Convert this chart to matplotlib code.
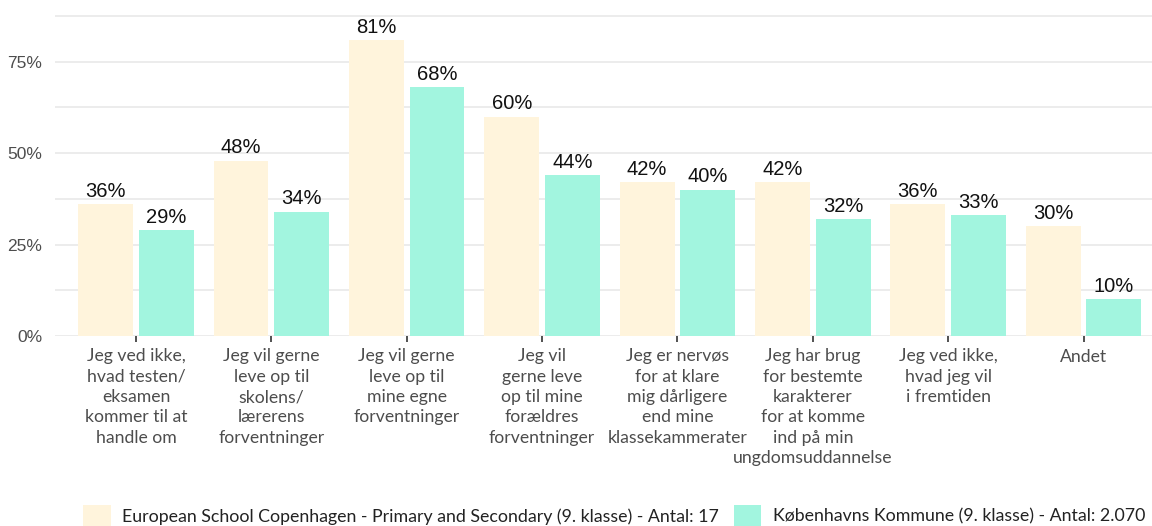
import numpy as np
import matplotlib
matplotlib.use("Agg")
import matplotlib.pyplot as plt
from matplotlib.ticker import MultipleLocator, FuncFormatter

categories = [
    "Jeg ved ikke,\nhvad testen/\neksamen\nkommer til at\nhandle om",
    "Jeg vil gerne\nleve op til\nskolens/\nlærerens\nforventninger",
    "Jeg vil gerne\nleve op til\nmine egne\nforventninger",
    "Jeg vil\ngerne leve\nop til mine\nforældres\nforventninger",
    "Jeg er nervøs\nfor at klare\nmig dårligere\nend mine\nklassekammerater",
    "Jeg har brug\nfor bestemte\nkarakterer\nfor at komme\nind på min\nungdomsuddannelse",
    "Jeg ved ikke,\nhvad jeg vil\ni fremtiden",
    "Andet",
]
school_vals = [36, 48, 81, 60, 42, 42, 36, 30]
kommune_vals = [29, 34, 68, 44, 40, 32, 33, 10]
school_label = "European School Copenhagen - Primary and Secondary (9. klasse) - Antal: 17"
kommune_label = "Københavns Kommune (9. klasse) - Antal: 2.070"

BEIGE = "#FFF4DC"
TEAL = "#A2F5DF"

fig = plt.figure(figsize=(11.52, 5.26), dpi=100)
ax = fig.add_axes([55/1152, 1 - 336/526, 1 - 55/1152, 336/526])

x = np.arange(len(categories))
w = 0.406
off = 0.224
ax.bar(x - off, school_vals, w, color=BEIGE, label=school_label, zorder=2)
ax.bar(x + off, kommune_vals, w, color=TEAL, label=kommune_label, zorder=2)

for i in range(len(categories)):
    ax.text(x[i] - off, school_vals[i] + 2.0, f"{school_vals[i]}%", ha="center", va="baseline",
            fontsize=14.5, family="Liberation Sans", color="#111")
    ax.text(x[i] + off, kommune_vals[i] + 2.0, f"{kommune_vals[i]}%", ha="center", va="baseline",
            fontsize=14.5, family="Liberation Sans", color="#111")

ax.set_xlim(-0.598, 7.506)
ax.set_ylim(0, 91.9)
ax.yaxis.set_major_locator(MultipleLocator(25))
ax.yaxis.set_minor_locator(MultipleLocator(12.5))
ax.yaxis.set_major_formatter(FuncFormatter(lambda v, p: f"{v:.0f}%"))
ax.grid(axis="y", which="both", color="#EBEBEB", linewidth=1.3, zorder=0)
ax.tick_params(axis="y", which="both", length=0, labelsize=12.5, labelcolor="#4D4D4D", pad=9)
for lbl in ax.get_yticklabels():
    lbl.set_family("Liberation Sans")

ax.set_xticks(x)
ax.set_xticklabels(categories, family="Lato", fontsize=12.7, color="#4D4D4D", linespacing=1.33)
ax.tick_params(axis="x", length=4, width=1.2, color="#333", pad=5)

for s in ax.spines.values():
    s.set_visible(False)

fig.legend(loc="center left", bbox_to_anchor=(83/1152, 1 - 516/526), ncol=2, frameon=False,
           prop={"family": "Lato", "size": 12.8}, labelcolor="#222",
           borderpad=0, borderaxespad=0,
           handlelength=1.57, handleheight=1.6, columnspacing=0.8, handletextpad=0.65)

fig.savefig("out.png", dpi=100)
